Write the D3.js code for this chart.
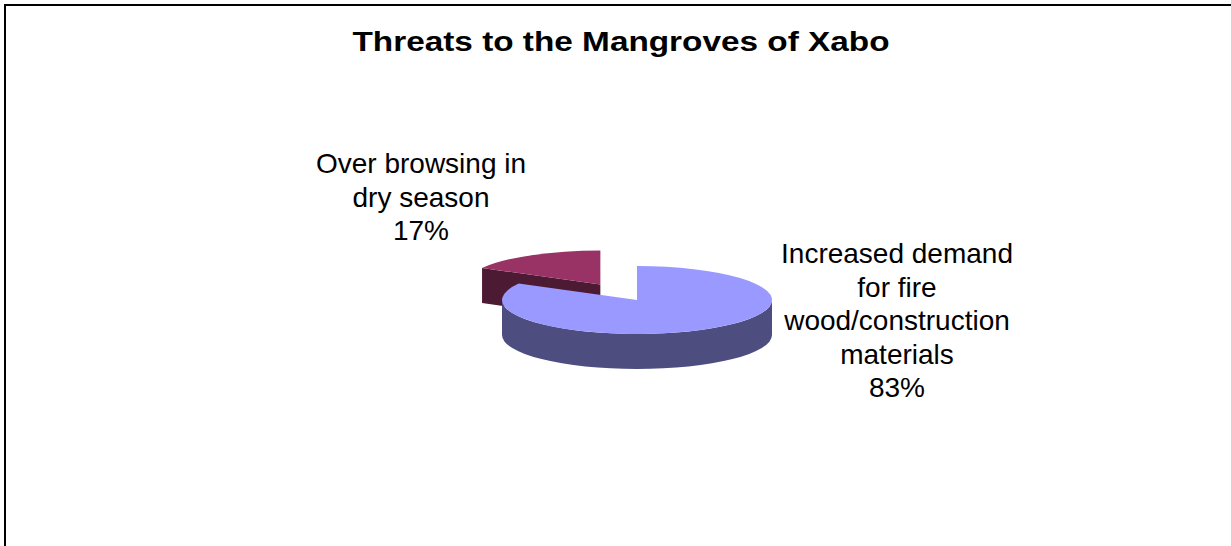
<!DOCTYPE html>
<html>
<head>
<meta charset="utf-8">
<script src="https://cdn.jsdelivr.net/npm/d3@7"></script>
<style>
  html, body { margin: 0; padding: 0; background: #fff; }
  svg { display: block; }
  text { font-family: "Liberation Sans", Arial, sans-serif; }
</style>
</head>
<body>
<svg id="chart" width="1231" height="546"></svg>
<script>
// ---- data ----
const title = "Threats to the Mangroves of Xabo";
const categories = [
  "Increased demand for fire wood/construction materials",
  "Over browsing in dry season"
];
const values = [83, 17];
const labelLines = [
  ["Increased demand", "for fire", "wood/construction", "materials"],
  ["Over browsing in", "dry season"]
];
const exploded = [0, 1];
const topColors = ["#9999FF", "#993366"];
const sideColors = ["#4D4D80", "#4D1A33"];

// ---- layout ----
const cx = 637, cy = 300, rx = 135, ry = 34, depth = 35, explodeDist = 72;
const svg = d3.select("#chart");

// border
svg.append("rect")
  .attr("x", 5).attr("y", 5).attr("width", 1400).attr("height", 700)
  .attr("fill", "none").attr("stroke", "#000").attr("stroke-width", 2);

// title (horizontally stretched like the original)
svg.append("text")
  .attr("transform", "translate(621,51) scale(1.17,1)")
  .attr("text-anchor", "middle")
  .attr("font-size", 28.5).attr("font-weight", "bold")
  .text(title);

const topColor = d3.scaleOrdinal(categories, topColors);
const sideColor = d3.scaleOrdinal(categories, sideColors);
const fmt = d3.format(".0%");
const total = d3.sum(values);

const arcs = d3.pie().sort(null).value(d => d)(values);

arcs.forEach((a, i) => {
  const mid = (a.startAngle + a.endAngle) / 2;
  const d = exploded[i] ? explodeDist : 0;
  a.cx = cx + Math.sin(mid) * d;
  a.cy = cy - Math.cos(mid) * d * (ry / rx);
  a.cat = categories[i];
});

function pt(a, ang, z) {
  return [a.cx + rx * Math.sin(ang), a.cy - ry * Math.cos(ang) + (z || 0)];
}

function topPath(a) {
  const s = pt(a, a.startAngle), e = pt(a, a.endAngle);
  const large = (a.endAngle - a.startAngle) > Math.PI ? 1 : 0;
  return `M${a.cx},${a.cy}L${s[0]},${s[1]}A${rx},${ry} 0 ${large} 1 ${e[0]},${e[1]}Z`;
}

function radialFace(a, ang) {
  const p = d3.path();
  const o = pt(a, ang);
  p.moveTo(a.cx, a.cy);
  p.lineTo(o[0], o[1]);
  p.lineTo(o[0], o[1] + depth);
  p.lineTo(a.cx, a.cy + depth);
  p.closePath();
  return p.toString();
}

function rimPath(a) {
  const s = Math.max(a.startAngle, Math.PI / 2);
  const e = Math.min(a.endAngle, 3 * Math.PI / 2);
  if (e <= s) return null;
  const p1 = pt(a, s), p2 = pt(a, e);
  const large = (e - s) > Math.PI ? 1 : 0;
  return `M${p1[0]},${p1[1]}A${rx},${ry} 0 ${large} 1 ${p2[0]},${p2[1]}` +
         `L${p2[0]},${p2[1] + depth}A${rx},${ry} 0 ${large} 0 ${p1[0]},${p1[1] + depth}Z`;
}

const g = svg.append("g");
const order = [1, 0];
order.forEach(i => {
  const a = arcs[i];
  if (i === 1) {
    g.append("path").attr("d", radialFace(a, a.startAngle))
      .attr("fill", sideColor(a.cat));
  }
  const rim = rimPath(a);
  if (rim) g.append("path").attr("d", rim).attr("fill", sideColor(a.cat));
  g.append("path").attr("d", topPath(a)).attr("fill", topColor(a.cat));
});

// labels
const labelPos = [
  { x: 897, y: 263 },
  { x: 421, y: 173 }
];
const lineH = 33.5;
arcs.forEach((a, i) => {
  const lines = labelLines[i].concat([fmt(values[i] / total)]);
  const t = svg.append("text")
    .attr("text-anchor", "middle")
    .attr("font-size", 28)
    .attr("fill", "#000");
  lines.forEach((l, j) => {
    t.append("tspan").attr("x", labelPos[i].x).attr("y", labelPos[i].y + j * lineH).text(l);
  });
});
</script>
</body>
</html>
